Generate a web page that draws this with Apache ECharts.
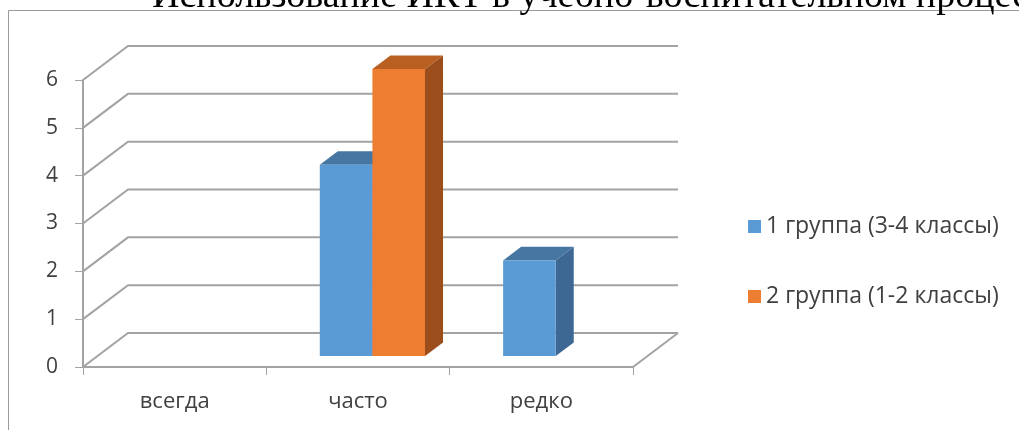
<!DOCTYPE html>
<html><head><meta charset="utf-8">
<script src="https://cdn.jsdelivr.net/npm/echarts@6/dist/echarts.min.js"></script>
<style>html,body{margin:0;padding:0;background:#fff}#c{width:1019px;height:430px}</style>
</head><body><div id="c"></div>
<script>
const titleText = 'Использование ИКТ в учебно-воспитательном процессе';
const categories = ['всегда', 'часто', 'редко'];
const seriesNames = ['1 группа (3-4 классы)', '2 группа (1-2 классы)'];
const group1 = [0, 4, 2];
const group2 = [0, 6, 0];
const yTicks = [0, 1, 2, 3, 4, 5, 6];

// 3D projection style constants
const DX = 45, DY = -34;          // full depth offset of back wall
const FRONT = 0.32, DEPTH = 0.40; // bar position/depth as fraction of full depth
const BARFRAC = 0.287;            // bar width as fraction of category band
const GRID = '#a3a3a3';
const TXT = '#404040';
const FONT = '"Open Sans", sans-serif';
const colors = [
  {front: '#5b9bd5', top: '#4676a2', side: '#3c6893'},
  {front: '#ed7d31', top: '#b95f22', side: '#9b4d1c'}
];

const chart = echarts.init(document.getElementById('c'), null, {renderer: 'canvas'});

function gridRender(params, api) {
  const cs = params.coordSys;
  const v = api.value(1);
  const y = api.coord([0, v])[1];
  const left = cs.x, right = cs.x + cs.width;
  const children = [{
    type: 'polyline',
    shape: {points: [[left, y], [left + DX, y + DY], [right + DX, y + DY]]},
    style: {stroke: GRID, lineWidth: 2, fill: null}
  }];
  if (v === 0) {
    children.push({
      type: 'line',
      shape: {x1: right, y1: y, x2: right + DX, y2: y + DY},
      style: {stroke: GRID, lineWidth: 2}
    });
  }
  return {type: 'group', children};
}

function barRender(sIdx) {
  return function (params, api) {
    const ci = api.value(0), v = api.value(1);
    if (!v) return null;
    const base = api.coord([ci, 0]);
    const top = api.coord([ci, v]);
    const bw = api.size([1, 0])[0];
    const w = bw * BARFRAC;
    const sx = FRONT * DX, sy = FRONT * DY;
    const x0 = base[0] + sx + (sIdx === 0 ? -w : 0), x1 = x0 + w;
    const yb = base[1] + sy, yt = top[1] + sy;
    const ddx = DEPTH * DX, ddy = DEPTH * DY;
    const c = colors[sIdx];
    return {
      type: 'group',
      children: [
        {type: 'polygon', shape: {points: [[x1, yt], [x1 + ddx, yt + ddy], [x1 + ddx, yb + ddy], [x1, yb]]}, style: {fill: c.side}},
        {type: 'polygon', shape: {points: [[x0, yt], [x1, yt], [x1 + ddx, yt + ddy], [x0 + ddx, yt + ddy]]}, style: {fill: c.top}},
        {type: 'rect', shape: {x: x0, y: yt, width: w, height: yb - yt}, style: {fill: c.front}}
      ]
    };
  };
}

const option = {
  animation: false,
  backgroundColor: '#fff',
  graphic: [
    {type: 'rect', shape: {x: 8.5, y: 10.5, width: 1300, height: 1000}, style: {fill: null, stroke: '#9a9a9a', lineWidth: 1}, z: -10},
    {type: 'text', left: 152, top: -22, style: {text: titleText, font: '38px "Liberation Serif", serif', fill: '#000'}}
  ],
  grid: {left: 83, right: 386, top: 80, bottom: 63, containLabel: false},
  legend: {
    orient: 'vertical', left: 743, top: 210, itemGap: 47,
    icon: 'rect', itemWidth: 13, itemHeight: 13,
    data: seriesNames,
    textStyle: {fontFamily: FONT, fontSize: 23, color: TXT}
  },
  xAxis: {
    type: 'category', data: categories, boundaryGap: true,
    axisLine: {lineStyle: {color: GRID, width: 2}},
    axisTick: {show: true, length: 8, lineStyle: {color: GRID, width: 1}},
    axisLabel: {margin: 24, fontFamily: FONT, fontSize: 22, color: TXT},
    splitLine: {show: false}
  },
  yAxis: {
    type: 'value', min: 0, max: 6, interval: 1,
    axisLine: {show: true, lineStyle: {color: GRID, width: 2}},
    axisTick: {show: true, length: 8, lineStyle: {color: GRID, width: 1}},
    axisLabel: {margin: 25, fontFamily: FONT, fontSize: 21, color: TXT,
      formatter: function (v) { return yTicks.indexOf(v) >= 0 ? String(v) : ''; }},
    splitLine: {show: false}
  },
  series: [
    {type: 'custom', name: '_grid', z: 1, clip: false, silent: true,
      data: yTicks.map(v => [0, v]), encode: {x: 0, y: 1}, renderItem: gridRender},
    {type: 'custom', name: seriesNames[0], z: 3, clip: false, itemStyle: {color: colors[0].front},
      data: group1.map((v, i) => [i, v]), encode: {x: 0, y: 1}, renderItem: barRender(0)},
    {type: 'custom', name: seriesNames[1], z: 4, clip: false, itemStyle: {color: colors[1].front},
      data: group2.map((v, i) => [i, v]), encode: {x: 0, y: 1}, renderItem: barRender(1)}
  ]
};
chart.setOption(option);
</script></body></html>
